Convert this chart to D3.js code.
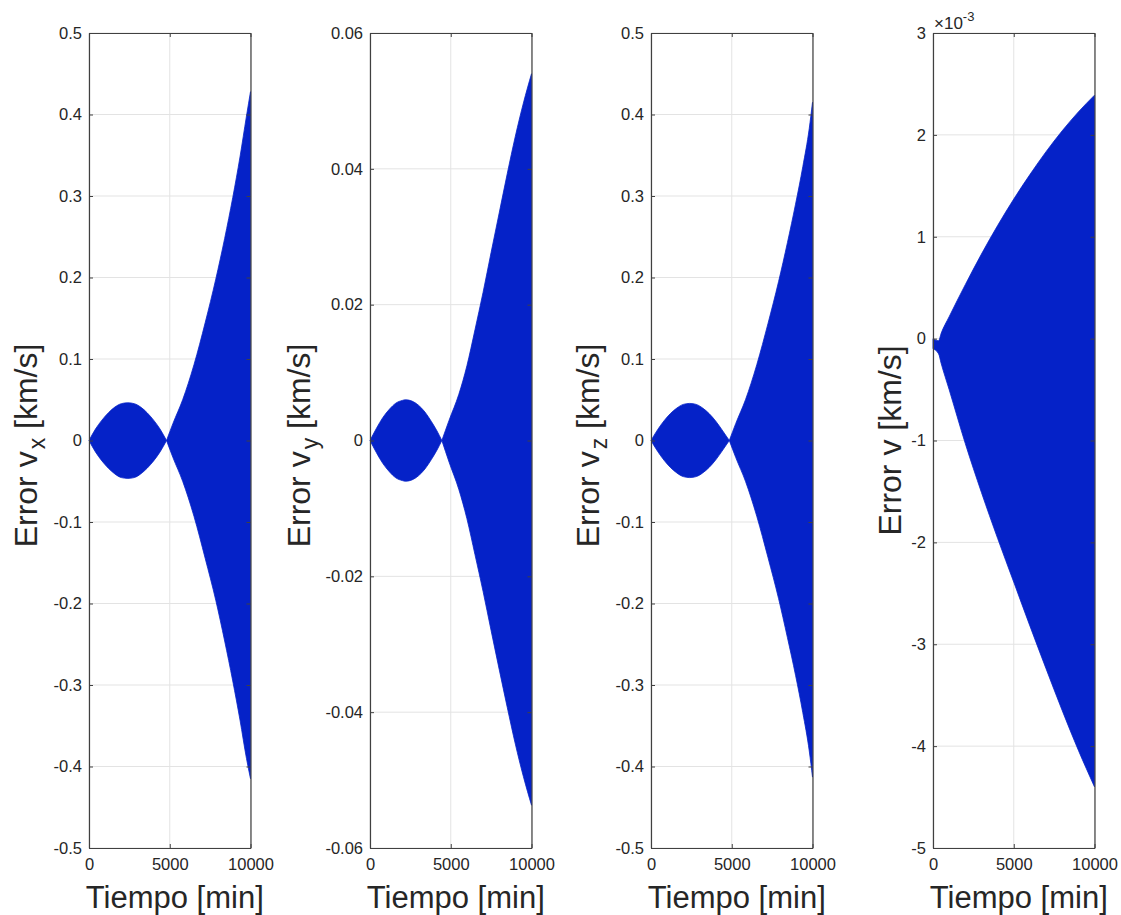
<!DOCTYPE html>
<html>
<head>
<meta charset="utf-8">
<script src="https://cdn.jsdelivr.net/npm/d3@7"></script>
<style>
  html, body { margin: 0; padding: 0; background: #ffffff; }
  svg { display: block; font-family: "Liberation Sans", Arial, Helvetica, sans-serif; }
</style>
</head>
<body>
<svg id="chart" width="1121" height="915"></svg>
<script>
// ---------------- data ----------------
const timeTicks = [0, 5000, 10000];

// Panel 1: Error v_x [km/s] (envelope of the dense oscillation)
const tVx = [0,400,800,1200,1600,2000,2400,2800,3200,3600,4000,4400,4800,5200,5800,6500,7200,7850,8400,8900,9350,9750,10000];
const vxUpper = [0,0.014,0.025,0.034,0.041,0.0452,0.0463,0.0452,0.041,0.034,0.025,0.014,0,0.021,0.05,0.093,0.145,0.198,0.248,0.298,0.348,0.398,0.428];
const vxLower = [0,-0.014,-0.025,-0.034,-0.041,-0.0455,-0.0465,-0.0455,-0.041,-0.034,-0.025,-0.014,0,-0.021,-0.05,-0.093,-0.145,-0.196,-0.246,-0.295,-0.343,-0.39,-0.415];
const vxTicks = [-0.5,-0.4,-0.3,-0.2,-0.1,0,0.1,0.2,0.3,0.4,0.5];

// Panel 2: Error v_y [km/s]
const tVy = [0,400,800,1200,1600,2000,2200,2600,3000,3400,3800,4150,4450,4900,5500,6000,6500,7000,7500,8000,8500,9000,9500,10000];
const vyUpper = [0,0.0018,0.0034,0.0046,0.0055,0.0059,0.006,0.0058,0.0052,0.0042,0.0028,0.0014,0,0.003,0.0068,0.011,0.0163,0.0218,0.0277,0.0335,0.0393,0.0448,0.0497,0.054];
const vyLower = [0,-0.0018,-0.0034,-0.0046,-0.0055,-0.0059,-0.006,-0.0058,-0.0052,-0.0042,-0.0028,-0.0014,0,-0.0032,-0.0072,-0.0115,-0.0168,-0.0222,-0.028,-0.0337,-0.0393,-0.0447,-0.0495,-0.0537];
const vyTicks = [-0.06,-0.04,-0.02,0,0.02,0.04,0.06];

// Panel 3: Error v_z [km/s]
const tVz = [0,400,800,1200,1600,2000,2400,2800,3200,3600,4000,4400,4850,5250,5850,6550,7250,7900,8450,8950,9400,9800,10000];
const vzUpper = [0,0.013,0.024,0.033,0.0398,0.0443,0.0455,0.0443,0.0398,0.033,0.024,0.013,0,0.021,0.05,0.093,0.144,0.195,0.243,0.29,0.336,0.383,0.415];
const vzLower = [0,-0.013,-0.024,-0.033,-0.0398,-0.0443,-0.0455,-0.0443,-0.0398,-0.033,-0.024,-0.013,0,-0.021,-0.05,-0.093,-0.144,-0.194,-0.242,-0.288,-0.334,-0.381,-0.413];
const vzTicks = [-0.5,-0.4,-0.3,-0.2,-0.1,0,0.1,0.2,0.3,0.4,0.5];

// Panel 4: Error v [km/s], values in units of 1e-3
const tV = [0,350,500,1000,2000,3000,4000,5000,6000,7000,8000,9000,10000];
const vUpper = [0,-0.02,0.05,0.215,0.53,0.83,1.11,1.37,1.61,1.835,2.04,2.225,2.39];
const vLower = [-0.1,-0.15,-0.24,-0.5,-1.03,-1.51,-1.96,-2.39,-2.82,-3.24,-3.65,-4.04,-4.4];
const vTicks = [-5,-4,-3,-2,-1,0,1,2,3];

// ---------------- layout ----------------
const svg = d3.select("#chart");
const plotTop = 33, plotBottom = 848, plotWidth = 161.5;
const blue = "#0522c8";
const axisColor = "#404040";
const gridColor = "#e3e3e3";
const textColor = "#262626";
const plainFmt = d => String(+d.toFixed(3));

const panels = [
  { left: 89,  t: tVx, up: vxUpper, lo: vxLower, domain: [-0.5, 0.5],   ticks: vxTicks, sub: "x", labelX: 25 },
  { left: 370, t: tVy, up: vyUpper, lo: vyLower, domain: [-0.06, 0.06], ticks: vyTicks, sub: "y", labelX: 298 },
  { left: 651, t: tVz, up: vzUpper, lo: vzLower, domain: [-0.5, 0.5],   ticks: vzTicks, sub: "z", labelX: 587 },
  { left: 933, t: tV,  up: vUpper,  lo: vLower,  domain: [-5, 3],       ticks: vTicks,  sub: null, labelX: 889, exp: true }
];

panels.forEach(p => {
  const x = d3.scaleLinear().domain([0, 10000]).range([p.left, p.left + plotWidth]);
  const y = d3.scaleLinear().domain(p.domain).range([plotBottom, plotTop]);
  const g = svg.append("g");

  // grid
  g.append("g").selectAll("line").data(p.ticks).join("line")
    .attr("x1", p.left).attr("x2", p.left + plotWidth)
    .attr("y1", d => y(d)).attr("y2", d => y(d))
    .attr("stroke", gridColor).attr("stroke-width", 1);
  g.append("g").selectAll("line").data(timeTicks).join("line")
    .attr("x1", d => x(d)).attr("x2", d => x(d))
    .attr("y1", plotTop).attr("y2", plotBottom)
    .attr("stroke", gridColor).attr("stroke-width", 1);

  // data envelope area, split at interior zero crossings (node points)
  const rows = p.t.map((t, i) => ({ t, up: p.up[i], lo: p.lo[i] }));
  const cuts = [0];
  rows.forEach((r, i) => { if (i > 0 && i < rows.length - 1 && r.up === 0 && r.lo === 0) cuts.push(i); });
  cuts.push(rows.length - 1);
  const area = d3.area()
    .x(d => x(d.t)).y0(d => y(d.lo)).y1(d => y(d.up))
    .curve(d3.curveMonotoneX);
  for (let k = 0; k < cuts.length - 1; k++) {
    g.append("path").datum(rows.slice(cuts[k], cuts[k + 1] + 1)).attr("d", area)
      .attr("fill", blue).attr("stroke", blue).attr("stroke-width", 0.8);
  }

  // axes
  const axB = g.append("g").attr("transform", `translate(0,${plotBottom})`)
    .call(d3.axisBottom(x).tickValues(timeTicks).tickFormat(d => String(d)).tickSizeInner(-4).tickSizeOuter(0).tickPadding(10));
  const axL = g.append("g").attr("transform", `translate(${p.left},0)`)
    .call(d3.axisLeft(y).tickValues(p.ticks).tickFormat(plainFmt).tickSizeInner(-4).tickSizeOuter(0).tickPadding(7));
  const axT = g.append("g").attr("transform", `translate(0,${plotTop})`)
    .call(d3.axisTop(x).tickValues(timeTicks).tickFormat("").tickSizeInner(-4).tickSizeOuter(0));
  const axR = g.append("g").attr("transform", `translate(${p.left + plotWidth},0)`)
    .call(d3.axisRight(y).tickValues(p.ticks).tickFormat("").tickSizeInner(-4).tickSizeOuter(0));
  [axB, axL, axT, axR].forEach(a => {
    a.select(".domain").attr("stroke", axisColor).attr("stroke-width", 1.2);
    a.selectAll(".tick line").attr("stroke", axisColor).attr("stroke-width", 1);
    a.selectAll(".tick text").attr("fill", textColor).attr("font-size", 16.5)
      .attr("font-family", "'Liberation Sans', Arial, sans-serif");
  });
  axB.selectAll(".tick text").attr("dy", "0.71em");

  // x label
  g.append("text")
    .attr("x", p.left + plotWidth / 2 + 5).attr("y", 908)
    .attr("text-anchor", "middle").attr("font-size", 31).attr("fill", textColor)
    .text("Tiempo [min]");

  // y label
  const cy = (plotTop + plotBottom) / 2 + (p.sub ? 5 : 0);
  const yl = g.append("text")
    .attr("transform", `translate(${p.labelX},${cy}) rotate(-90)`)
    .attr("text-anchor", "middle").attr("dy", "0.36em")
    .attr("font-size", 32).attr("fill", textColor);
  yl.append("tspan").text("Error v");
  if (p.sub) {
    yl.append("tspan").attr("font-size", 23).attr("dx", 2).attr("dy", 8).text(p.sub);
    yl.append("tspan").attr("dy", -8).text(" [km/s]");
  } else {
    yl.append("tspan").text(" [km/s]");
  }

  // exponent label
  if (p.exp) {
    const ex = g.append("text").attr("x", p.left + 1).attr("y", 29)
      .attr("font-size", 17).attr("fill", textColor);
    ex.append("tspan").text("\u00d710");
    ex.append("tspan").attr("font-size", 13).attr("dy", -8).text("-3");
  }
});
</script>
</body>
</html>
